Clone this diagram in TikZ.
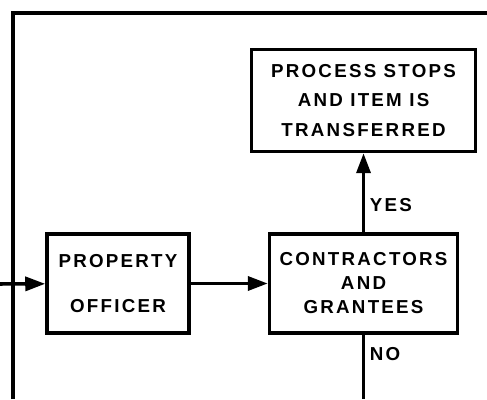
\documentclass[tikz,border=0pt]{standalone}
\usepackage{fontspec}
\newfontfamily\chartfont[LetterSpace=12]{Liberation Sans}
\usetikzlibrary{arrows.meta, positioning}

\begin{document}
\begin{tikzpicture}[
    x=0.03cm, y=-0.03cm,
    node distance=2.3cm,
    box/.style={rectangle, draw, line width=3pt, align=center, inner sep=0pt, font=\chartfont\bfseries\fontsize{16}{20.5}\selectfont},
    arrow/.style={line width=3pt, -{Triangle[length=0.6cm, width=0.42cm]}},
    line/.style={line width=3pt},
    answer/.style={font=\chartfont\bfseries\fontsize{16}{17}\selectfont, inner sep=4pt}
]
\useasboundingbox (0,0) rectangle (487,399);

% Nodes
\node[box, minimum width=4.26cm, minimum height=2.97cm, font=\chartfont\bfseries\fontsize{16}{38}\selectfont] (property) at (118,283.5) {PROPERTY\\OFFICER};
\node[box, minimum width=5.64cm, minimum height=2.97cm, right=2.31cm of property] (contractors) {CONTRACTORS\\AND\\GRANTEES};
\node[box, minimum width=6.72cm, minimum height=3.06cm, font=\chartfont\bfseries\fontsize{16}{25.5}\selectfont, above=2.37cm of contractors] (stops) {PROCESS STOPS\\AND ITEM IS\\TRANSFERRED};

% Loop ends
\coordinate (entry) at (0,284);
\coordinate (loopbottom) at (13,399);
\coordinate (loopend) at (487,13);
\coordinate (nobottom) at (contractors.south |- loopbottom);

% Arrows
\draw[arrow] (entry) -- (property);
\draw[arrow] (property) -- (contractors);
\draw[arrow] (contractors) -- node[answer, right, pos=0.35] {YES} (stops);
\draw[line] (contractors) -- node[answer, right, pos=0.3] {NO} (nobottom);
\draw[line] (loopbottom) |- (loopend);

\end{tikzpicture}
\end{document}
